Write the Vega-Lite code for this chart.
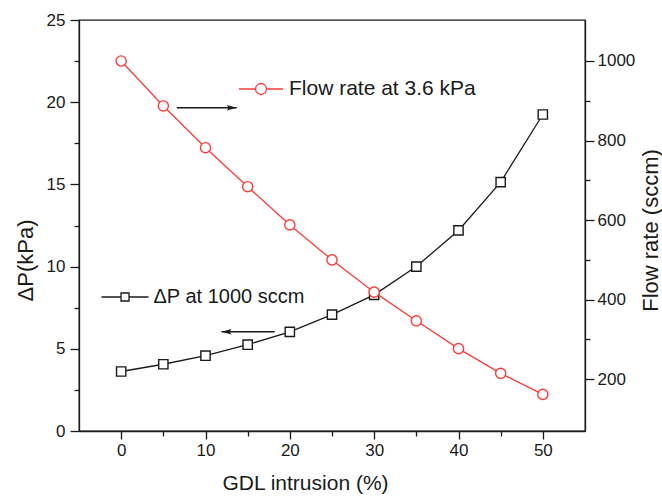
{
  "$schema": "https://vega.github.io/schema/vega-lite/v6.json",
  "autosize": "none",
  "padding": {"left": 79, "top": 20, "right": 77, "bottom": 70},
  "width": 506,
  "height": 411,
  "background": "white",
  "config": {
    "view": {"stroke": "#1a1a1a", "strokeWidth": 1.3},
    "font": "Liberation Sans",
    "axis": {
      "grid": false,
      "domainColor": "#1a1a1a",
      "domainWidth": 1.3,
      "tickColor": "#1a1a1a",
      "tickWidth": 1.3,
      "labelFont": "Liberation Sans",
      "labelFontSize": 17,
      "labelColor": "#1a1a1a",
      "titleFont": "Liberation Sans",
      "titleFontSize": 22,
      "titleFontWeight": "normal",
      "titleColor": "#1a1a1a"
    },
    "legend": {"padding": 0, "titlePadding": 0}
  },
  "datasets": {
    "series": [
      {"x": 0, "dp": 3.62, "flow": 1000},
      {"x": 5, "dp": 4.06, "flow": 887},
      {"x": 10, "dp": 4.58, "flow": 782},
      {"x": 15, "dp": 5.25, "flow": 684},
      {"x": 20, "dp": 6.03, "flow": 588},
      {"x": 25, "dp": 7.08, "flow": 500},
      {"x": 30, "dp": 8.28, "flow": 419},
      {"x": 35, "dp": 10.0, "flow": 347},
      {"x": 40, "dp": 12.2, "flow": 277},
      {"x": 45, "dp": 15.14, "flow": 215},
      {"x": 50, "dp": 19.25, "flow": 162}
    ],
    "arrows": [
      {"x": 6.6, "x2": 13.7, "y": 19.67, "dir": "right"},
      {"x": 18.2, "x2": 11.9, "y": 6.04, "dir": "left"}
    ]
  },
  "layer": [
    {
      "layer": [
        {
          "data": {"name": "series"},
          "mark": {"type": "line", "strokeWidth": 1.3},
          "encoding": {
            "x": {"field": "x", "type": "quantitative"},
            "y": {"field": "dp", "type": "quantitative"},
            "color": {
              "datum": "ΔP at 1000 sccm",
              "type": "nominal",
              "scale": {"range": ["#1a1a1a"]},
              "legend": {
                "orient": "none",
                "legendX": 21.5,
                "legendY": 252.5,
                "title": null,
                "symbolType": "M-1,0L-0.17,0M0.17,0L1,0M-0.17,-0.17L0.17,-0.17L0.17,0.17L-0.17,0.17Z",
                "symbolSize": 2209,
                "symbolStrokeWidth": 1.3,
                "symbolFillColor": "white",
                "labelFont": "Liberation Sans",
                "labelFontSize": 20,
                "labelColor": "#1a1a1a",
                "labelOffset": 4,
                "labelLimit": 400
              }
            }
          }
        },
        {
          "data": {"name": "series"},
          "mark": {"type": "point", "shape": "square", "filled": true, "fill": "white", "stroke": "#1a1a1a", "strokeWidth": 1.4, "size": 86, "opacity": 1},
          "encoding": {
            "x": {"field": "x", "type": "quantitative"},
            "y": {"field": "dp", "type": "quantitative"}
          }
        },
        {
          "data": {"name": "arrows"},
          "mark": {"type": "rule", "color": "#1a1a1a", "strokeWidth": 1.5},
          "encoding": {
            "x": {"field": "x", "type": "quantitative"},
            "x2": {"field": "x2"},
            "y": {"field": "y", "type": "quantitative"}
          }
        },
        {
          "data": {"name": "arrows"},
          "mark": {"type": "point", "filled": true, "color": "#1a1a1a", "size": 100, "opacity": 1},
          "encoding": {
            "x": {"field": "x2", "type": "quantitative"},
            "y": {"field": "y", "type": "quantitative"},
            "shape": {
              "field": "dir",
              "type": "nominal",
              "scale": {"domain": ["right", "left"], "range": ["M-2,-0.55L0,0L-2,0.55L-1.6,0Z", "M2,-0.55L0,0L2,0.55L1.6,0Z"]},
              "legend": null
            }
          }
        }
      ],
      "encoding": {
        "x": {
          "type": "quantitative",
          "scale": {"domain": [-5, 55], "nice": false, "zero": false},
          "axis": {
            "orient": "bottom",
            "title": "GDL intrusion (%)",
            "values": [0, 5, 10, 15, 20, 25, 30, 35, 40, 45, 50],
            "labelExpr": "datum.value % 10 === 0 ? datum.label : ''",
            "tickSize": {"condition": {"test": "datum.value % 10 === 0", "value": 8}, "value": 5},
            "labelPadding": 3,
            "titleFontSize": 21,
            "titleX": 226,
            "titleY": 52,
            "titleBaseline": "middle"
          }
        },
        "y": {
          "type": "quantitative",
          "scale": {"domain": [0, 25], "nice": false, "zero": false},
          "axis": {
            "orient": "left",
            "title": "ΔP(kPa)",
            "values": [0, 2.5, 5, 7.5, 10, 12.5, 15, 17.5, 20, 22.5, 25],
            "labelExpr": "datum.value % 5 === 0 ? datum.label : ''",
            "tickSize": {"condition": {"test": "datum.value % 5 === 0", "value": 9}, "value": 5},
            "labelPadding": 5,
            "titleX": -54,
            "titleY": 240,
            "titleBaseline": "middle"
          }
        }
      }
    },
    {
      "data": {"name": "series"},
      "layer": [
        {
          "mark": {"type": "line", "strokeWidth": 1.3},
          "encoding": {
            "color": {
              "datum": "Flow rate at 3.6 kPa",
              "type": "nominal",
              "scale": {"range": ["#ff3b3b"]},
              "legend": {
                "orient": "none",
                "legendX": 159,
                "legendY": 46,
                "title": null,
                "symbolType": "M-1,0L-0.25,0M0.25,0L1,0M-0.25,0A0.25,0.25,0,1,0,0.25,0A0.25,0.25,0,1,0,-0.25,0Z",
                "symbolSize": 1936,
                "symbolStrokeWidth": 1.3,
                "symbolFillColor": "white",
                "labelFont": "Liberation Sans",
                "labelFontSize": 21,
                "labelColor": "#1a1a1a",
                "labelOffset": 5,
                "labelLimit": 400
              }
            }
          }
        },
        {
          "mark": {"type": "point", "shape": "circle", "filled": true, "fill": "white", "stroke": "#ff3b3b", "strokeWidth": 1.4, "size": 104, "opacity": 1}
        }
      ],
      "encoding": {
        "x": {"field": "x", "type": "quantitative"},
        "y": {
          "field": "flow",
          "type": "quantitative",
          "scale": {"domain": [70, 1103], "nice": false, "zero": false},
          "axis": {
            "orient": "right",
            "title": "Flow rate (sccm)",
            "format": "d",
            "values": [200, 300, 400, 500, 600, 700, 800, 900, 1000],
            "labelExpr": "datum.value % 200 === 0 ? datum.label : ''",
            "tickSize": {"condition": {"test": "datum.value % 200 === 0", "value": 9}, "value": 5},
            "labelPadding": 3,
            "titleAngle": 270,
            "titleX": 65,
            "titleY": 210,
            "titleBaseline": "middle"
          }
        }
      }
    }
  ],
  "resolve": {"scale": {"y": "independent", "color": "independent"}}
}
